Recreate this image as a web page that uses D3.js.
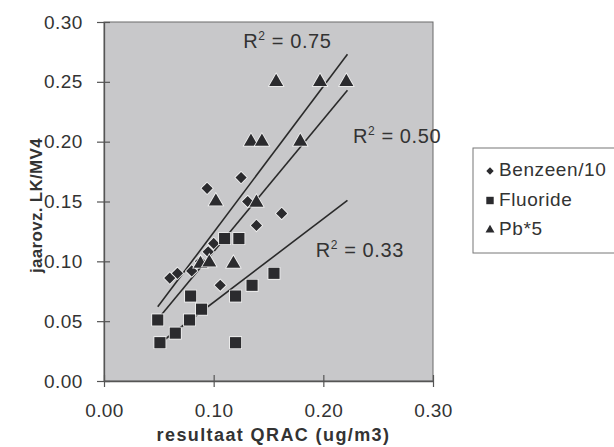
<!DOCTYPE html>
<html>
<head>
<meta charset="utf-8">
<script src="https://cdn.jsdelivr.net/npm/d3@7"></script>
<style>
  body { margin: 0; background: #fff; }
  svg { font-family: "Liberation Sans", Arial, sans-serif; }
</style>
</head>
<body>
<div id="chart"></div>
<script>
// values
const benzeenX = [0.094, 0.125, 0.131, 0.162, 0.139, 0.106, 0.060, 0.067, 0.080, 0.088, 0.095, 0.100];
const benzeenY = [0.161, 0.170, 0.150, 0.140, 0.130, 0.080, 0.086, 0.090, 0.092, 0.100, 0.108, 0.115];

const fluorideX = [0.049, 0.051, 0.065, 0.078, 0.079, 0.089, 0.110, 0.123, 0.120, 0.120, 0.135, 0.155];
const fluorideY = [0.051, 0.032, 0.040, 0.051, 0.071, 0.060, 0.119, 0.119, 0.071, 0.032, 0.080, 0.090];

const pbX = [0.157, 0.197, 0.221, 0.134, 0.144, 0.179, 0.102, 0.139, 0.088, 0.096, 0.118];
const pbY = [0.250, 0.250, 0.250, 0.200, 0.200, 0.200, 0.150, 0.149, 0.098, 0.099, 0.098];

// trend lines: [x0, y0, x1, y1] and their R² labels
const trendNames = ["Pb*5", "Benzeen/10", "Fluoride"];
const trendEnds = [
    [0.049, 0.062, 0.222, 0.273],
    [0.052, 0.055, 0.222, 0.243],
    [0.053, 0.033, 0.222, 0.151]
];
const r2Values = ["0.75", "0.50", "0.33"];
const r2LabelPos = [[0.127, 0.278], [0.227, 0.199], [0.193, 0.104]];

const xTicks = [0, 0.1, 0.2, 0.3];
const yTicks = [0, 0.05, 0.10, 0.15, 0.20, 0.25, 0.30];

const seriesNames = ["Benzeen/10", "Fluoride", "Pb*5"];
const seriesShapes = [d3.symbolDiamond2, d3.symbolSquare, d3.symbolTriangle];

const W = 614, H = 447;
const margin = { top: 22, right: 181, bottom: 66, left: 104 };
const width = W - margin.left - margin.right;
const height = H - margin.top - margin.bottom;
const textColor = "#333";

const svg = d3.select("#chart").append("svg")
    .attr("width", W)
    .attr("height", H);

const g = svg.append("g")
    .attr("transform", `translate(${margin.left},${margin.top})`);

const x = d3.scaleLinear().domain([0, 0.3]).range([0, width]);
const y = d3.scaleLinear().domain([0, 0.3]).range([height, 0]);

// plot area
g.append("rect")
    .attr("width", width)
    .attr("height", height)
    .attr("fill", "#c8c8ca")
    .attr("stroke", "#6a6a6a")
    .attr("stroke-width", 1);

// axes with cross ticks
const xAxis = g.append("g")
    .attr("transform", `translate(0,${height})`)
    .call(d3.axisBottom(x).tickValues(xTicks).tickFormat(d3.format(".2f")).tickSizeInner(6).tickSizeOuter(0));
xAxis.selectAll(".tick line").attr("y1", -6);
xAxis.selectAll("text").attr("dy", "1.4em");

const yAxis = g.append("g")
    .call(d3.axisLeft(y).tickValues(yTicks).tickFormat(d3.format(".2f")).tickSizeInner(7).tickSizeOuter(0));
yAxis.selectAll(".tick line").attr("x1", 6);
yAxis.selectAll("text").attr("dx", "-0.6em");

[xAxis, yAxis].forEach(a => {
    a.select(".domain").attr("stroke", "#555").attr("stroke-width", 1.3);
    a.selectAll(".tick line").attr("stroke", "#555").attr("stroke-width", 1.2);
    a.selectAll("text").attr("font-size", 19).attr("fill", textColor)
        .attr("letter-spacing", 0.4)
        .attr("font-family", "Liberation Sans, Arial, sans-serif");
});

// trend lines
g.selectAll(".trend")
    .data(trendEnds)
    .join("line")
    .attr("class", "trend")
    .attr("x1", d => x(d[0]))
    .attr("y1", d => y(d[1]))
    .attr("x2", d => x(d[2]))
    .attr("y2", d => y(d[3]))
    .attr("stroke", "#2a2a2a")
    .attr("stroke-width", 1.6);

// points
const series = [
    { xs: benzeenX, ys: benzeenY, shape: seriesShapes[0], size: 80 },
    { xs: fluorideX, ys: fluorideY, shape: seriesShapes[1], size: 125 },
    { xs: pbX, ys: pbY, shape: seriesShapes[2], size: 85 }
];

series.forEach(s => {
    g.append("g")
        .selectAll("path")
        .data(s.xs.map((v, i) => [v, s.ys[i]]))
        .join("path")
        .attr("transform", d => `translate(${x(d[0])},${y(d[1])})`)
        .attr("d", d3.symbol().type(s.shape).size(s.size))
        .attr("fill", "#2b2b2e")
        .attr("stroke", "#f4f4f4")
        .attr("stroke-width", 1.6)
        .attr("paint-order", "stroke");
});

// R² labels
const r2 = g.selectAll(".r2")
    .data(r2Values)
    .join("text")
    .attr("class", "r2")
    .attr("x", (d, i) => x(r2LabelPos[i][0]))
    .attr("y", (d, i) => y(r2LabelPos[i][1]))
    .attr("font-size", 20)
    .attr("letter-spacing", 0.6)
    .attr("fill", textColor);
r2.append("tspan").text("R");
r2.append("tspan").attr("dy", -8).attr("font-size", 12).text("2");
r2.append("tspan").attr("dy", 8).text(d => " = " + d);

// axis titles
svg.append("text")
    .attr("x", margin.left + width / 2 + 5)
    .attr("y", 441)
    .attr("text-anchor", "middle")
    .attr("font-size", 18)
    .attr("font-weight", "bold")
    .attr("letter-spacing", 1.4)
    .attr("fill", textColor)
    .text("resultaat QRAC (ug/m3)");

svg.append("text")
    .attr("transform", `translate(42, ${margin.top + height / 2 + 4}) rotate(-90)`)
    .attr("text-anchor", "middle")
    .attr("font-size", 17)
    .attr("font-weight", "bold")
    .attr("letter-spacing", 0.3)
    .attr("fill", textColor)
    .text("jaarovz. LK/MV4");

// legend
const legend = svg.append("g").attr("transform", "translate(473,148)");
legend.append("rect")
    .attr("width", 150)
    .attr("height", 105)
    .attr("fill", "#fff")
    .attr("stroke", "#777")
    .attr("stroke-width", 1);

const items = legend.selectAll(".item")
    .data(seriesNames)
    .join("g")
    .attr("class", "item")
    .attr("transform", (d, i) => `translate(0,${28 + i * 29.5})`);

items.append("path")
    .attr("transform", "translate(17,-5)")
    .attr("d", (d, i) => d3.symbol().type(seriesShapes[i]).size(i === 1 ? 55 : 35)())
    .attr("fill", "#2b2b2e");

items.append("text")
    .attr("x", 26)
    .attr("y", 0)
    .attr("font-size", 19)
    .attr("letter-spacing", 0.6)
    .attr("fill", textColor)
    .text(d => d);
</script>
</body>
</html>
